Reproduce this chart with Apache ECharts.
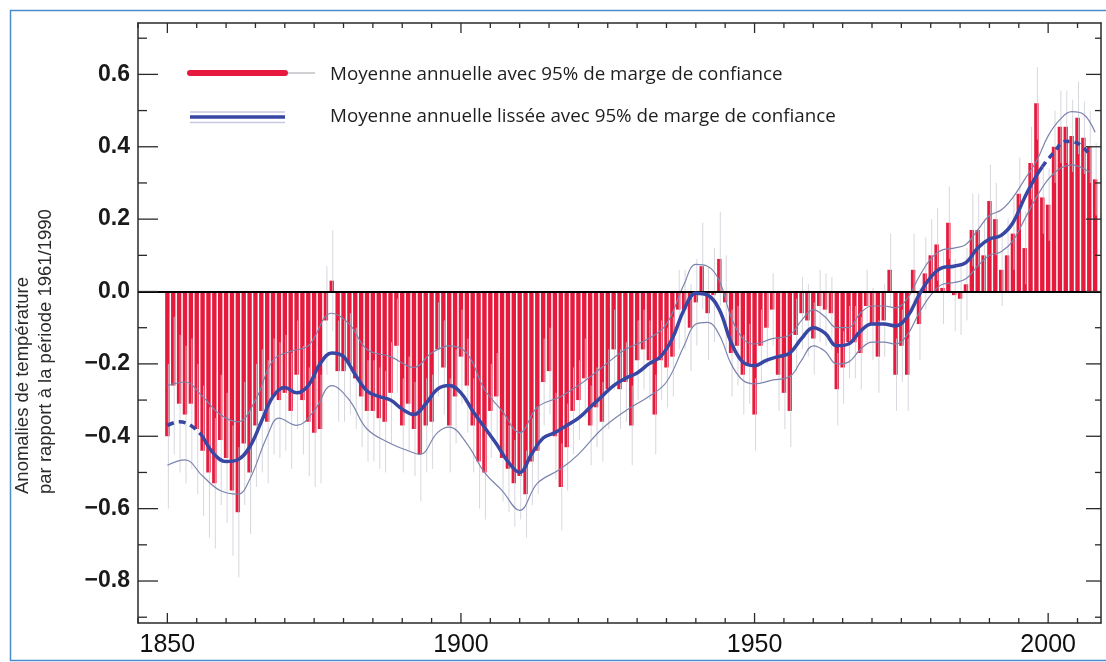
<!DOCTYPE html>
<html><head><meta charset="utf-8">
<script src="https://cdn.jsdelivr.net/npm/echarts@6/dist/echarts.min.js"></script>
<style>html,body{margin:0;padding:0;background:#fff}#c{width:1106px;height:662px}</style>
</head><body><div id="c"></div>
<script>
// ---------------- DATA ----------------
const firstYear = 1850;
// Annual anomalies (°C) 1850..2008
const anomalies = [
 -0.40,-0.26,-0.31,-0.34,-0.31,-0.38,-0.44,-0.50,-0.53,-0.41,
 -0.46,-0.55,-0.61,-0.42,-0.50,-0.37,-0.33,-0.36,-0.29,-0.30,
 -0.28,-0.33,-0.23,-0.30,-0.36,-0.39,-0.38,-0.08,0.03,-0.22,
 -0.22,-0.20,-0.24,-0.29,-0.33,-0.33,-0.35,-0.36,-0.28,-0.15,
 -0.37,-0.31,-0.38,-0.45,-0.37,-0.36,-0.16,-0.21,-0.37,-0.29,
 -0.18,-0.26,-0.37,-0.47,-0.50,-0.33,-0.29,-0.46,-0.49,-0.53,
 -0.51,-0.56,-0.47,-0.44,-0.25,-0.22,-0.40,-0.54,-0.43,-0.33,
 -0.30,-0.24,-0.37,-0.32,-0.36,-0.27,-0.16,-0.27,-0.25,-0.37,
 -0.19,-0.16,-0.19,-0.34,-0.19,-0.21,-0.18,-0.05,-0.05,-0.10,
 -0.03,0.07,-0.06,-0.01,0.09,-0.03,-0.17,-0.15,-0.23,-0.20,
 -0.34,-0.15,-0.10,-0.05,-0.23,-0.28,-0.33,-0.12,-0.06,-0.08,
 -0.13,-0.04,-0.05,-0.06,-0.27,-0.21,-0.14,-0.14,-0.17,-0.04,
 -0.09,-0.18,-0.08,0.06,-0.23,-0.15,-0.23,0.06,-0.09,0.05,
 0.10,0.13,0.01,0.19,-0.01,-0.02,0.02,0.17,0.17,0.10,
 0.25,0.20,0.06,0.10,0.16,0.27,0.12,0.355,0.52,0.26,
 0.24,0.40,0.455,0.455,0.43,0.48,0.425,0.40,0.31
];
// 95% half-widths of the annual values
const errors = [
 0.20,0.19,0.19,0.19,0.18,0.18,0.18,0.18,0.18,0.18,
 0.18,0.18,0.18,0.17,0.17,0.17,0.17,0.17,0.16,0.16,
 0.16,0.16,0.15,0.15,0.15,0.15,0.15,0.15,0.14,0.14,
 0.14,0.14,0.14,0.14,0.14,0.14,0.14,0.14,0.14,0.13,
 0.13,0.13,0.13,0.13,0.13,0.13,0.13,0.13,0.13,0.13,
 0.13,0.13,0.13,0.13,0.13,0.13,0.12,0.12,0.12,0.12,
 0.12,0.12,0.12,0.12,0.12,0.12,0.12,0.12,0.12,0.12,
 0.11,0.11,0.11,0.11,0.11,0.11,0.11,0.11,0.11,0.11,
 0.11,0.11,0.11,0.11,0.11,0.11,0.11,0.11,0.11,0.12,
 0.12,0.12,0.13,0.13,0.13,0.13,0.12,0.11,0.11,0.11,
 0.10,0.10,0.10,0.10,0.10,0.10,0.10,0.10,0.10,0.10,
 0.10,0.10,0.10,0.10,0.10,0.10,0.10,0.10,0.10,0.10,
 0.10,0.10,0.10,0.10,0.10,0.10,0.10,0.10,0.10,0.10,
 0.10,0.10,0.10,0.10,0.10,0.10,0.10,0.10,0.10,0.10,
 0.10,0.10,0.10,0.10,0.10,0.10,0.10,0.10,0.10,0.10,
 0.10,0.10,0.10,0.10,0.10,0.10,0.10,0.10,0.10
];
// Smoothed curve (dashed at both ends)
const smoothStart = [[1850,-0.37],[1852,-0.36],[1854,-0.37],[1856,-0.40]];
const smoothMid = [[1856,-0.40],[1858,-0.45],[1860,-0.47],[1862,-0.465],[1864,-0.43],[1866,-0.36],[1868,-0.29],[1870,-0.265],[1872,-0.28],[1874,-0.26],[1876,-0.20],[1878,-0.17],[1880,-0.18],[1882,-0.23],[1884,-0.275],[1886,-0.29],[1888,-0.30],[1890,-0.325],[1892,-0.34],[1894,-0.31],[1896,-0.27],[1898,-0.26],[1900,-0.28],[1902,-0.33],[1904,-0.375],[1906,-0.42],[1908,-0.47],[1910,-0.50],[1912,-0.45],[1914,-0.405],[1916,-0.39],[1918,-0.37],[1920,-0.35],[1922,-0.32],[1924,-0.29],[1926,-0.26],[1928,-0.24],[1930,-0.225],[1932,-0.20],[1934,-0.18],[1936,-0.13],[1938,-0.05],[1940,-0.005],[1942,-0.01],[1944,-0.05],[1946,-0.14],[1948,-0.195],[1950,-0.205],[1952,-0.19],[1954,-0.18],[1956,-0.17],[1958,-0.13],[1960,-0.10],[1962,-0.115],[1964,-0.15],[1966,-0.145],[1968,-0.11],[1970,-0.09],[1972,-0.09],[1974,-0.095],[1976,-0.07],[1978,-0.01],[1980,0.04],[1982,0.066],[1984,0.07],[1986,0.08],[1988,0.12],[1990,0.145],[1992,0.155],[1994,0.19],[1996,0.26],[1998,0.32],[1999,0.345]];
const smoothEnd = [[1999,0.345],[2001,0.385],[2003,0.415],[2005,0.41],[2007,0.38]];
// 95% confidence envelope of the smoothed curve
const smoothUpper = [[1850,-0.26],[1853,-0.25],[1856,-0.29],[1859,-0.34],[1862,-0.36],[1865,-0.30],[1868,-0.19],[1871,-0.165],[1874,-0.15],[1878,-0.06],[1881,-0.09],[1884,-0.16],[1888,-0.18],[1892,-0.21],[1895,-0.17],[1898,-0.15],[1901,-0.17],[1904,-0.27],[1907,-0.33],[1910,-0.39],[1913,-0.32],[1917,-0.29],[1920,-0.26],[1924,-0.21],[1928,-0.16],[1932,-0.13],[1935,-0.09],[1938,0.02],[1940,0.075],[1942,0.07],[1944,0.03],[1946,-0.07],[1948,-0.13],[1950,-0.145],[1953,-0.13],[1956,-0.12],[1958,-0.08],[1960,-0.05],[1962,-0.07],[1964,-0.10],[1966,-0.10],[1968,-0.06],[1970,-0.04],[1972,-0.04],[1974,-0.045],[1976,-0.02],[1978,0.04],[1980,0.09],[1982,0.115],[1984,0.12],[1986,0.13],[1988,0.17],[1990,0.21],[1992,0.225],[1994,0.26],[1996,0.31],[1998,0.36],[2000,0.43],[2002,0.475],[2004,0.497],[2006,0.49],[2008,0.44]];
const smoothLower = [[1850,-0.48],[1853,-0.465],[1856,-0.51],[1859,-0.55],[1862,-0.56],[1864,-0.52],[1867,-0.40],[1869,-0.35],[1872,-0.37],[1875,-0.33],[1878,-0.26],[1881,-0.30],[1884,-0.38],[1888,-0.42],[1891,-0.44],[1893,-0.45],[1896,-0.39],[1898,-0.375],[1901,-0.42],[1904,-0.50],[1907,-0.55],[1910,-0.605],[1913,-0.53],[1917,-0.49],[1920,-0.45],[1924,-0.38],[1928,-0.33],[1932,-0.29],[1935,-0.25],[1938,-0.15],[1940,-0.09],[1942,-0.085],[1944,-0.12],[1946,-0.20],[1948,-0.245],[1950,-0.255],[1953,-0.245],[1956,-0.235],[1958,-0.19],[1960,-0.15],[1962,-0.165],[1964,-0.20],[1966,-0.195],[1968,-0.16],[1970,-0.14],[1972,-0.14],[1974,-0.145],[1976,-0.12],[1978,-0.06],[1980,-0.01],[1982,0.02],[1984,0.025],[1986,0.035],[1988,0.07],[1990,0.10],[1992,0.11],[1994,0.14],[1996,0.20],[1998,0.26],[2000,0.31],[2002,0.34],[2004,0.35],[2007,0.33]];
// Tick labels
const xLabelValues = [1850, 1900, 1950, 2000];
const yLabelValues = [-0.8, -0.6, -0.4, -0.2, 0.0, 0.2, 0.4, 0.6];
const xMinorStep = 5;
const yMinorValues = [-0.9, -0.7, -0.5, -0.3, -0.1, 0.1, 0.3, 0.5, 0.7];
const legendText1 = 'Moyenne annuelle avec 95% de marge de confiance';
const legendText2 = 'Moyenne annuelle lissée avec 95% de marge de confiance';
const yTitle1 = 'Anomalies de température';
const yTitle2 = 'par rapport à la période 1961/1990';

// ---------------- BUILD ----------------
const barData = anomalies.map((v, i) => [firstYear + i, v]);
const errData = anomalies.map((v, i) => [firstYear + i, v - errors[i], v + errors[i]]);
const xMinor = [];
for (let y = 1845; y <= 2009; y += xMinorStep) if (!xLabelValues.includes(y)) xMinor.push(y);
const xTickData = xLabelValues.map(v => [v, 1]).concat(xMinor.map(v => [v, 0]));
const yTickData = yLabelValues.map(v => [v, 1]).concat(yMinorValues.map(v => [v, 0]));

const X_MIN = 1845, X_MAX = 2009, Y_MIN = -0.916, Y_MAX = 0.742;
const axisColor = '#2a2a2a';
const narrow = '"Liberation Sans Narrow", "Liberation Sans", Arial, sans-serif';
const chart = echarts.init(document.getElementById('c'), null, {renderer: 'canvas'});

const option = {
  animation: false,
  backgroundColor: '#ffffff',
  grid: {left: 138, right: 5, top: 23, bottom: 39, containLabel: false},
  xAxis: [{
    type: 'value', min: X_MIN, max: X_MAX, position: 'bottom',
    axisLine: {show: true, onZero: false, lineStyle: {color: axisColor, width: 1.5}},
    axisTick: {show: false},
    splitLine: {show: false},
    axisLabel: {customValues: xLabelValues, margin: 10, color: '#111', fontSize: 25,
      fontFamily: narrow, formatter: v => String(Math.round(v))}
  }, {
    type: 'value', min: X_MIN, max: X_MAX, position: 'top',
    axisLine: {show: true, onZero: false, lineStyle: {color: axisColor, width: 1.5}},
    axisTick: {show: false}, axisLabel: {show: false}, splitLine: {show: false}
  }],
  yAxis: [{
    type: 'value', min: Y_MIN, max: Y_MAX, position: 'left',
    axisLine: {show: true, onZero: false, lineStyle: {color: axisColor, width: 1.5}},
    axisTick: {show: false}, splitLine: {show: false},
    axisLabel: {customValues: yLabelValues, margin: 8, color: '#1a1a1a', fontSize: 23, fontWeight: 'bold',
      fontFamily: '"Liberation Sans", Arial, sans-serif',
      formatter: v => (v < -1e-9 ? '\u2212' : '') + Math.abs(v).toFixed(1)}
  }, {
    type: 'value', min: Y_MIN, max: Y_MAX, position: 'right',
    axisLine: {show: true, onZero: false, lineStyle: {color: axisColor, width: 1.5}},
    axisTick: {show: false}, axisLabel: {show: false}, splitLine: {show: false}
  }],
  series: [
    {
      type: 'bar', name: 'annual', data: barData, barWidth: 4.4, z: 2,
      itemStyle: {color: '#e61a3d'},
      markLine: {silent: true, symbol: 'none', label: {show: false},
        lineStyle: {color: '#000', width: 2, type: 'solid'}, data: [{yAxis: 0}]}
    },
    {
      type: 'custom', name: 'err', data: errData, z: 3,
      encode: {x: 0, y: [1, 2]},
      renderItem: (params, api) => {
        const x = api.value(0);
        const p1 = api.coord([x, api.value(1)]);
        const p2 = api.coord([x, api.value(2)]);
        return {type: 'line', shape: {x1: p1[0] + 1, y1: p1[1], x2: p2[0] + 1, y2: p2[1]},
          style: {stroke: 'rgba(205,205,214,0.8)', lineWidth: 1}};
      }
    },
    {type: 'line', data: smoothUpper, smooth: 0.4, symbol: 'none', z: 4,
      lineStyle: {color: '#7b84ad', width: 1.2}},
    {type: 'line', data: smoothLower, smooth: 0.4, symbol: 'none', z: 4,
      lineStyle: {color: '#7b84ad', width: 1.2}},
    {type: 'line', data: smoothStart, smooth: 0.4, symbol: 'none', z: 5,
      lineStyle: {color: '#3846a4', width: 3.5, type: [7, 5]}},
    {type: 'line', data: smoothMid, smooth: 0.4, symbol: 'none', z: 5,
      lineStyle: {color: '#3846a4', width: 3.5}},
    {type: 'line', data: smoothEnd, smooth: 0.4, symbol: 'none', z: 5,
      lineStyle: {color: '#3846a4', width: 3.5, type: [6, 5]}},
    {
      type: 'custom', name: 'xticks', data: xTickData, z: 6, silent: true,
      encode: {x: 0},
      renderItem: (params, api) => {
        const cs = params.coordSys;
        const x = api.coord([api.value(0), 0])[0];
        const len = api.value(1) ? 10 : 5;
        const st = {stroke: axisColor, lineWidth: 1.3};
        return {type: 'group', children: [
          {type: 'line', shape: {x1: x, y1: cs.y + cs.height, x2: x, y2: cs.y + cs.height - len}, style: st},
          {type: 'line', shape: {x1: x, y1: cs.y, x2: x, y2: cs.y + len}, style: st}
        ]};
      }
    },
    {
      type: 'custom', name: 'yticks', data: yTickData.map(d => [X_MIN, d[0], d[1]]), z: 6, silent: true,
      encode: {x: 0, y: 1},
      renderItem: (params, api) => {
        const cs = params.coordSys;
        const y = api.coord([X_MIN, api.value(1)])[1];
        const major = api.value(2);
        const st = {stroke: axisColor, lineWidth: 1.3};
        return {type: 'group', children: [
          {type: 'line', shape: {x1: cs.x, y1: y, x2: cs.x + (major ? 20 : 9), y2: y}, style: st},
          {type: 'line', shape: {x1: cs.x + cs.width, y1: y, x2: cs.x + cs.width - (major ? 15 : 6), y2: y}, style: st}
        ]};
      }
    }
  ],
  graphic: [
    {type: 'rect', z: -10, shape: {x: 10.5, y: 10.5, width: 1120, height: 650},
      style: {fill: 'none', stroke: '#4a8ccc', lineWidth: 1.5}},
    // legend
    {type: 'line', z: 100, shape: {x1: 285, y1: 73, x2: 315, y2: 73}, style: {stroke: '#cfcfd4', lineWidth: 2}},
    {type: 'line', z: 101, shape: {x1: 190, y1: 73, x2: 285, y2: 73}, style: {stroke: '#e8193f', lineWidth: 6, lineCap: 'round'}},
    {type: 'text', z: 100, style: {x: 330, y: 75, text: legendText1, fill: '#1e1e1e', font: '18.8px "Open Sans", sans-serif', verticalAlign: 'middle'}},
    {type: 'line', z: 100, shape: {x1: 190, y1: 112, x2: 285, y2: 112}, style: {stroke: '#c7c9e2', lineWidth: 1.5}},
    {type: 'line', z: 100, shape: {x1: 190, y1: 122.5, x2: 285, y2: 122.5}, style: {stroke: '#c7c9e2', lineWidth: 1.5}},
    {type: 'line', z: 101, shape: {x1: 190, y1: 117, x2: 285, y2: 117}, style: {stroke: '#3846a4', lineWidth: 3.5}},
    {type: 'text', z: 100, style: {x: 330, y: 117, text: legendText2, fill: '#1e1e1e', font: '18.8px "Open Sans", sans-serif', verticalAlign: 'middle'}},
    // y axis title (two lines)
    {type: 'text', x: 23, y: 494, rotation: Math.PI / 2, style: {x: 0, y: 0, text: yTitle1, fill: '#2a2a2a',
      font: '18.5px ' + narrow, align: 'left', verticalAlign: 'middle'}},
    {type: 'text', x: 46, y: 494, rotation: Math.PI / 2, style: {x: 0, y: 0, text: yTitle2, fill: '#2a2a2a',
      font: '18.5px ' + narrow, align: 'left', verticalAlign: 'middle'}}
  ]
};
chart.setOption(option);
</script>
</body></html>
